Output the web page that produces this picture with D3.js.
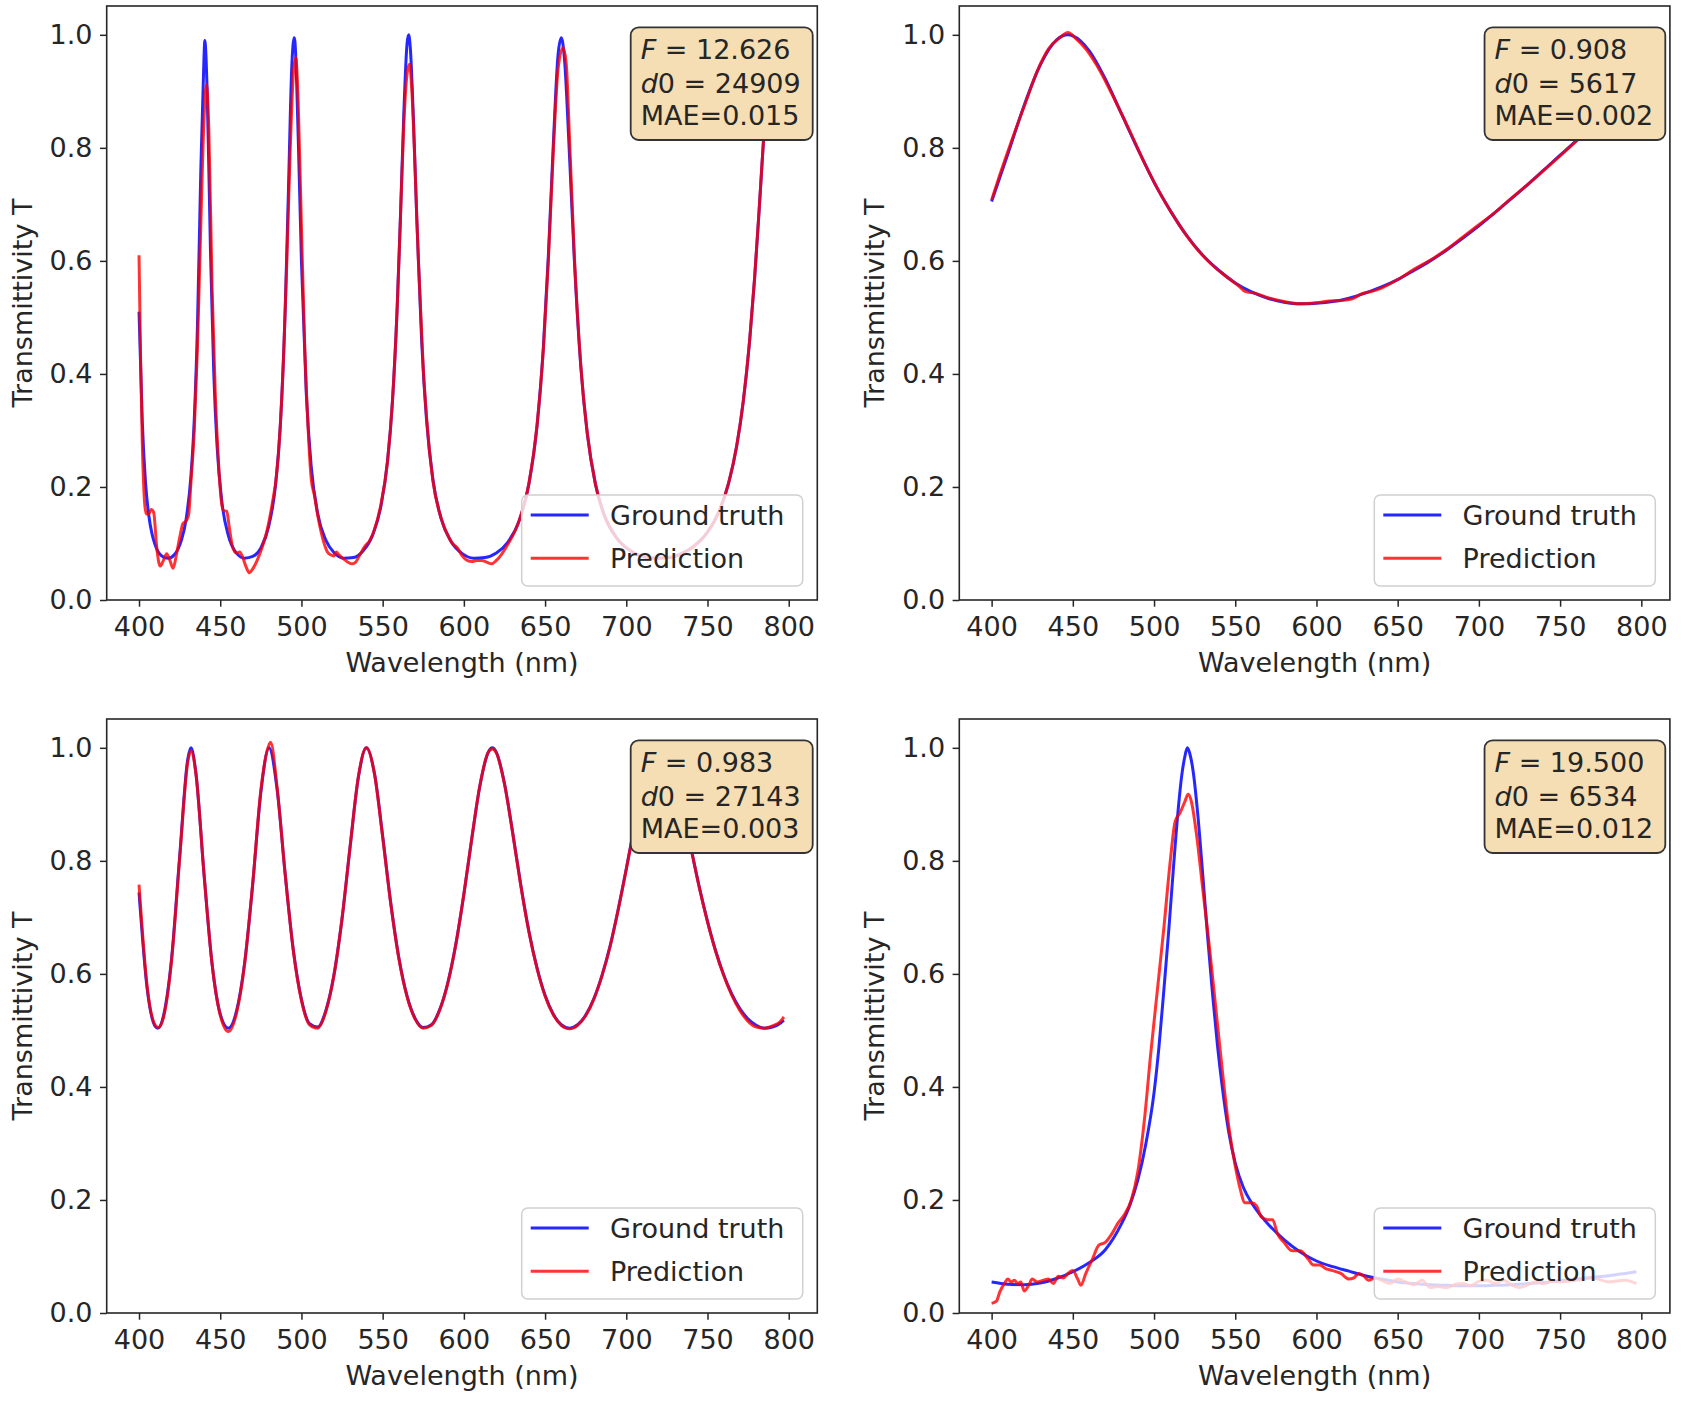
<!DOCTYPE html>
<html><head><meta charset="utf-8">
<script src="https://cdn.jsdelivr.net/npm/d3@7"></script>
<style>
body{margin:0;background:#fff;}
svg{display:block;font-family:"DejaVu Sans",sans-serif;}
</style>
</head><body>
<svg id="chart" width="1684" height="1402"></svg>
<script>
// ---------- Data ----------
const xTicks = [400, 450, 500, 550, 600, 650, 700, 750, 800];
const yTicks = [0.0, 0.2, 0.4, 0.6, 0.8, 1.0];
const seriesNames = ["Ground truth", "Prediction"];

// Panel 1 (top-left)
const wlGT1 = [400,402,404,406,408,410,414,418,422,426,429,432,434,436,438,440,440.5,442,444,446,448,451,455,460,465,470,475,480,484,487,490,492,494,495.5,496,498,500,503,506,510,515,520,526,532,538,544,549,553,556,559,561,563,565,566,567,569,571,574,577,581,586,592,599,606,613,620,627,634,640,645,649,652,655,658,660,662,665,668,672,676,681,687,694,702,710,718,726,734,742,750,757,763,768,772,776,779,782,785,788,791,794,797];
const gt1 = [0.51,0.316,0.208,0.150,0.117,0.097,0.078,0.074,0.081,0.105,0.143,0.221,0.319,0.488,0.755,0.96,0.99,0.895,0.616,0.403,0.275,0.174,0.114,0.083,0.074,0.077,0.092,0.132,0.202,0.309,0.514,0.726,0.940,0.995,0.988,0.820,0.599,0.364,0.237,0.153,0.106,0.084,0.074,0.075,0.087,0.116,0.167,0.246,0.350,0.522,0.682,0.859,0.984,1.0,0.978,0.847,0.675,0.459,0.319,0.212,0.144,0.104,0.082,0.074,0.075,0.083,0.102,0.140,0.205,0.307,0.450,0.608,0.802,0.965,0.995,0.955,0.788,0.603,0.413,0.294,0.205,0.146,0.110,0.088,0.077,0.074,0.075,0.082,0.096,0.120,0.156,0.207,0.273,0.351,0.461,0.569,0.699,0.837,0.951,1.0,0.962,0.858];
const wlPR1 = [400,401,402,403.5,404.5,406,407.5,409,411,413,415,417,419,421,423,425,427,429,430.5,432,434,436,438,440,441.5,443,445,447,449,450.5,452,454,455.5,457.5,460,462,463.5,466,468,470,473,476,479,482,485,487,489,491,493,495,496.5,498,500,502,504,506,508,510,513,516,518,520,521.5,523,525,528,531,533,536,539,542,545,549,553,556,559,561,563,565,566.5,568,570,572,575,578,581,586,590,593,596,599,602,605,608,611,614,617,620,623,627,634,640,645,649,652,655,658,661,663,665,668,672,676,681,687,694,702,710,718,726,734,742,750,757,763,768,772,776,779,782,785,788,791,794,797];
const pr1 = [0.61,0.42,0.28,0.17,0.152,0.152,0.16,0.155,0.09,0.06,0.07,0.082,0.07,0.056,0.08,0.11,0.135,0.14,0.15,0.21,0.30,0.45,0.66,0.85,0.912,0.83,0.55,0.36,0.24,0.18,0.158,0.157,0.13,0.095,0.083,0.085,0.078,0.058,0.048,0.055,0.072,0.095,0.125,0.17,0.23,0.31,0.43,0.60,0.79,0.93,0.96,0.88,0.66,0.45,0.31,0.215,0.185,0.15,0.11,0.085,0.08,0.078,0.085,0.08,0.075,0.068,0.064,0.066,0.08,0.095,0.105,0.125,0.17,0.245,0.35,0.52,0.68,0.84,0.93,0.948,0.90,0.76,0.60,0.41,0.29,0.21,0.145,0.115,0.10,0.092,0.078,0.07,0.068,0.07,0.07,0.067,0.064,0.07,0.08,0.098,0.14,0.205,0.307,0.445,0.60,0.79,0.94,0.977,0.95,0.82,0.61,0.415,0.295,0.205,0.146,0.11,0.088,0.077,0.074,0.075,0.082,0.096,0.12,0.156,0.207,0.273,0.351,0.461,0.57,0.70,0.837,0.951,1.0,0.962,0.858];

// Panel 2 (top-right)
const wlGT2 = [400,410,420,430,440,447,450,460,470,480,490,500,510,520,530,540,550,560,570,580,590,600,610,620,630,640,650,660,670,680,690,700,710,720,730,740,750,760,770,780,790,797];
const gt2 = [0.705,0.789,0.875,0.947,0.991,1.0,0.998,0.972,0.922,0.860,0.798,0.739,0.689,0.645,0.610,0.583,0.561,0.545,0.534,0.527,0.524,0.525,0.528,0.534,0.543,0.554,0.567,0.583,0.600,0.619,0.640,0.662,0.686,0.710,0.735,0.761,0.787,0.813,0.838,0.863,0.886,0.902];
const wlPR2 = [400,405,412,420,428,435,442,447,452,458,465,475,485,495,505,515,525,535,545,552,556,562,570,580,590,600,608,615,622,628,634,640,650,660,670,680,690,700,710,720,730,740,750,760,770,780,790,797];
const pr2 = [0.708,0.752,0.81,0.873,0.935,0.975,0.995,1.004,0.993,0.975,0.945,0.89,0.83,0.768,0.713,0.666,0.626,0.595,0.571,0.556,0.546,0.543,0.535,0.528,0.524,0.526,0.529,0.530,0.533,0.542,0.546,0.552,0.567,0.585,0.601,0.620,0.642,0.664,0.686,0.711,0.735,0.760,0.786,0.812,0.838,0.862,0.886,0.901];

// Panel 3 (bottom-left)
const wlGT3 = [400,405,410,411.5,415,420,425,430,432,435,440,445,450,455,460,465,470,475,480,485,490,495,500,505,510,515,520,525,530,535,540,545,550,555,560,565,570,575,580,585,590,595,600,605,610,615,617.5,620,625,630,635,640,645,650,655,660,665,670,675,680,685,690,695,700,705,710,715,720,725,730,735,740,745,750,755,760,765,770,775,780,785,790,795,797];
const gt3 = [0.744,0.574,0.507,0.504,0.525,0.626,0.807,0.980,1.0,0.956,0.777,0.617,0.529,0.504,0.534,0.619,0.759,0.921,1.0,0.927,0.776,0.642,0.555,0.512,0.506,0.535,0.598,0.698,0.826,0.947,1.0,0.954,0.844,0.725,0.628,0.561,0.521,0.505,0.510,0.536,0.583,0.652,0.741,0.842,0.935,0.992,1.0,0.992,0.937,0.851,0.758,0.676,0.611,0.562,0.529,0.510,0.504,0.510,0.527,0.556,0.597,0.649,0.714,0.786,0.861,0.929,0.979,1.0,0.987,0.947,0.887,0.820,0.753,0.693,0.641,0.598,0.564,0.538,0.520,0.509,0.504,0.506,0.513,0.518];
const wlPR3 = [400,405,410,412,415,420,425,430,432,435,440,445,450,455,460,465,470,475,480,481,485,490,495,500,505,510,515,520,525,530,535,540,545,550,555,560,565,570,575,580,585,590,595,600,605,610,615,617.5,620,625,630,635,640,645,650,655,660,665,670,675,680,685,690,695,700,705,710,715,720,725,730,735,740,745,750,755,760,765,770,775,780,785,790,795,797];
const pr3 = [0.758,0.578,0.509,0.505,0.522,0.622,0.803,0.975,0.995,0.955,0.778,0.617,0.527,0.498,0.53,0.617,0.76,0.925,1.005,1.01,0.93,0.776,0.641,0.553,0.51,0.504,0.533,0.597,0.698,0.826,0.948,1.0,0.953,0.842,0.724,0.627,0.56,0.52,0.504,0.509,0.535,0.582,0.651,0.741,0.842,0.935,0.992,0.998,0.991,0.936,0.85,0.757,0.675,0.61,0.561,0.528,0.509,0.503,0.509,0.526,0.555,0.596,0.648,0.713,0.785,0.86,0.928,0.978,0.999,0.986,0.946,0.886,0.82,0.752,0.692,0.64,0.597,0.562,0.535,0.516,0.506,0.504,0.508,0.516,0.524];

// Panel 4 (bottom-right)
const wlGT4 = [400,410,420,430,440,450,460,470,480,485,490,495,500,503,506,509,512,515,517,519,520.5,522,524,527,530,533,536,539,542,546,550,555,560,565,570,580,590,600,610,620,630,640,650,660,670,680,690,700,710,720,730,740,750,760,770,780,790,797];
const gt4 = [0.055,0.051,0.05,0.053,0.061,0.073,0.089,0.112,0.158,0.19,0.235,0.30,0.39,0.47,0.57,0.675,0.79,0.895,0.95,0.985,1.0,0.99,0.96,0.88,0.775,0.665,0.565,0.475,0.40,0.32,0.265,0.222,0.195,0.175,0.158,0.13,0.108,0.092,0.082,0.074,0.066,0.06,0.055,0.052,0.05,0.049,0.048,0.048,0.049,0.05,0.052,0.054,0.057,0.06,0.063,0.066,0.07,0.073];
const wlPR4 = [400,403,405,408,410,412,414,416,418,420,423,425,428,432,435,438,441,444,447,450,453,455,458,462,466,470,474,478,482,486,490,494,498,502,506,510,513,516,519,521,523,526,530,534,538,542,546,550,553,556,560,563,566,570,573,576,580,585,590,595,598,602,606,610,615,620,623,626,629,632,636,640,645,650,655,660,665,670,675,680,685,690,695,700,705,710,715,720,725,730,735,740,745,750,760,770,780,790,797];
const pr4 = [0.017,0.021,0.037,0.053,0.06,0.055,0.058,0.052,0.055,0.039,0.05,0.06,0.055,0.058,0.06,0.052,0.065,0.062,0.07,0.075,0.06,0.049,0.07,0.095,0.12,0.125,0.14,0.16,0.175,0.20,0.25,0.34,0.46,0.57,0.68,0.80,0.87,0.885,0.905,0.918,0.905,0.85,0.75,0.65,0.54,0.43,0.33,0.26,0.22,0.195,0.195,0.19,0.17,0.165,0.165,0.14,0.125,0.11,0.11,0.095,0.085,0.085,0.078,0.075,0.07,0.06,0.062,0.07,0.066,0.058,0.062,0.058,0.052,0.06,0.055,0.05,0.058,0.045,0.047,0.045,0.05,0.052,0.048,0.056,0.058,0.052,0.058,0.05,0.045,0.05,0.055,0.052,0.056,0.055,0.058,0.062,0.055,0.058,0.052];

// Info box texts
const infoF   = ["12.626", "0.908", "0.983", "19.500"];
const infoD0  = ["24909", "5617", "27143", "6534"];
const infoMAE = ["0.015", "0.002", "0.003", "0.012"];

// ---------- Layout ----------
const colX = [106.7, 959.3], rowY = [6, 719];
const W = 710.6, H = 594;
const FONT = 27;
const TXT = "#262626";

const panels = [
  {wlGT: wlGT1, gt: gt1, wlPR: wlPR1, pr: pr1, c: 0, r: 0},
  {wlGT: wlGT2, gt: gt2, wlPR: wlPR2, pr: pr2, c: 1, r: 0},
  {wlGT: wlGT3, gt: gt3, wlPR: wlPR3, pr: pr3, c: 0, r: 1},
  {wlGT: wlGT4, gt: gt4, wlPR: wlPR4, pr: pr4, c: 1, r: 1}
];

const svg = d3.select("#chart");
svg.append("rect").attr("width", 1684).attr("height", 1402).attr("fill", "#fff");

panels.forEach((p, i) => {
  const x0 = colX[p.c], y0 = rowY[p.r];
  const x = d3.scaleLinear().domain([380.1, 817.6]).range([x0, x0 + W]);
  const y = d3.scaleLinear().domain([0, 1.051]).range([y0 + H, y0]);
  const g = svg.append("g");

  const clipId = "clip" + i;
  svg.append("clipPath").attr("id", clipId).append("rect")
    .attr("x", x0).attr("y", y0).attr("width", W).attr("height", H);

  const line = d3.line().x(d => x(d[0])).y(d => y(d[1])).curve(d3.curveMonotoneX);
  const gtData = d3.zip(p.wlGT, p.gt);
  const prData = d3.zip(p.wlPR, p.pr);

  const lines = g.append("g").attr("clip-path", `url(#${clipId})`);
  lines.append("path").datum(gtData).attr("d", line)
    .attr("fill", "none").attr("stroke", "#0000ff").attr("stroke-opacity", 0.85)
    .attr("stroke-width", 3).attr("stroke-linejoin", "round");
  lines.append("path").datum(prData).attr("d", line)
    .attr("fill", "none").attr("stroke", "#ff0000").attr("stroke-opacity", 0.8)
    .attr("stroke-width", 3).attr("stroke-linejoin", "round");

  // Axes
  const xAxis = d3.axisBottom(x).tickValues(xTicks).tickSize(6.7).tickSizeOuter(0).tickPadding(9.8)
    .tickFormat(d3.format("d"));
  const yAxis = d3.axisLeft(y).tickValues(yTicks).tickSize(6.7).tickSizeOuter(0).tickPadding(7.5)
    .tickFormat(d3.format(".1f"));
  const gx = g.append("g").attr("transform", `translate(0,${y0 + H})`).call(xAxis);
  const gy = g.append("g").attr("transform", `translate(${x0},0)`).call(yAxis);
  [gx, gy].forEach(a => {
    a.select(".domain").remove();
    a.selectAll(".tick line").attr("stroke", TXT).attr("stroke-width", 1.5);
    a.selectAll(".tick text").attr("fill", TXT).attr("font-size", FONT)
      .attr("font-family", '"DejaVu Sans", sans-serif');
  });

  // Frame
  g.append("rect").attr("x", x0).attr("y", y0).attr("width", W).attr("height", H)
    .attr("fill", "none").attr("stroke", TXT).attr("stroke-width", 1.6);

  // Axis labels
  g.append("text").attr("x", x0 + W / 2).attr("y", y0 + H + 72)
    .attr("text-anchor", "middle").attr("font-size", FONT).attr("fill", TXT)
    .text("Wavelength (nm)");
  g.append("text").attr("transform", `translate(${x0 - 75},${y0 + H / 2}) rotate(-90)`)
    .attr("text-anchor", "middle").attr("font-size", FONT).attr("fill", TXT)
    .text("Transmittivity T");

  // Legend
  const lw = 281, lh = 91;
  const lx = x0 + W - 14.6 - lw, ly = y0 + H - 14 - lh;
  const lg = g.append("g");
  lg.append("rect").attr("x", lx).attr("y", ly).attr("width", lw).attr("height", lh)
    .attr("rx", 6).attr("fill", "#fff").attr("fill-opacity", 0.8)
    .attr("stroke", "#d0d0d0").attr("stroke-width", 1.5);
  const legColors = [["#0000ff", 0.85], ["#ff0000", 0.8]];
  seriesNames.forEach((name, k) => {
    const cy = ly + 20 + k * 43.3;
    lg.append("line").attr("x1", lx + 9).attr("x2", lx + 67).attr("y1", cy).attr("y2", cy)
      .attr("stroke", legColors[k][0]).attr("stroke-opacity", legColors[k][1]).attr("stroke-width", 3);
    lg.append("text").attr("x", lx + 88.3).attr("y", cy + 9.7)
      .attr("font-size", FONT).attr("fill", TXT).text(name);
  });

  // Info box
  const ib = g.append("g");
  const boxRight = x0 + W - 4.6, boxTop = y0 + 21.3, boxBottom = y0 + 134;
  const bg = ib.append("rect");
  const t1 = ib.append("text").attr("y", y0 + 53.3).attr("font-size", FONT).attr("fill", TXT);
  t1.append("tspan").attr("font-style", "italic").text("F");
  t1.append("tspan").text(" = " + infoF[i]);
  const t2 = ib.append("text").attr("y", y0 + 86.7).attr("font-size", FONT).attr("fill", TXT);
  t2.append("tspan").attr("font-style", "italic").text("d");
  t2.append("tspan").text("0 = " + infoD0[i]);
  const t3 = ib.append("text").attr("y", y0 + 119).attr("font-size", FONT).attr("fill", TXT)
    .text("MAE=" + infoMAE[i]);
  const maxW = Math.max(t1.node().getComputedTextLength(), t2.node().getComputedTextLength(),
                        t3.node().getComputedTextLength());
  const boxLeft = boxRight - (maxW + 22);
  [t1, t2, t3].forEach(t => t.attr("x", boxLeft + 10));
  bg.attr("x", boxLeft).attr("y", boxTop).attr("width", boxRight - boxLeft).attr("height", boxBottom - boxTop)
    .attr("rx", 8).attr("fill", "#f5deb3").attr("stroke", "#333").attr("stroke-width", 1.8);
});
</script>
</body></html>
